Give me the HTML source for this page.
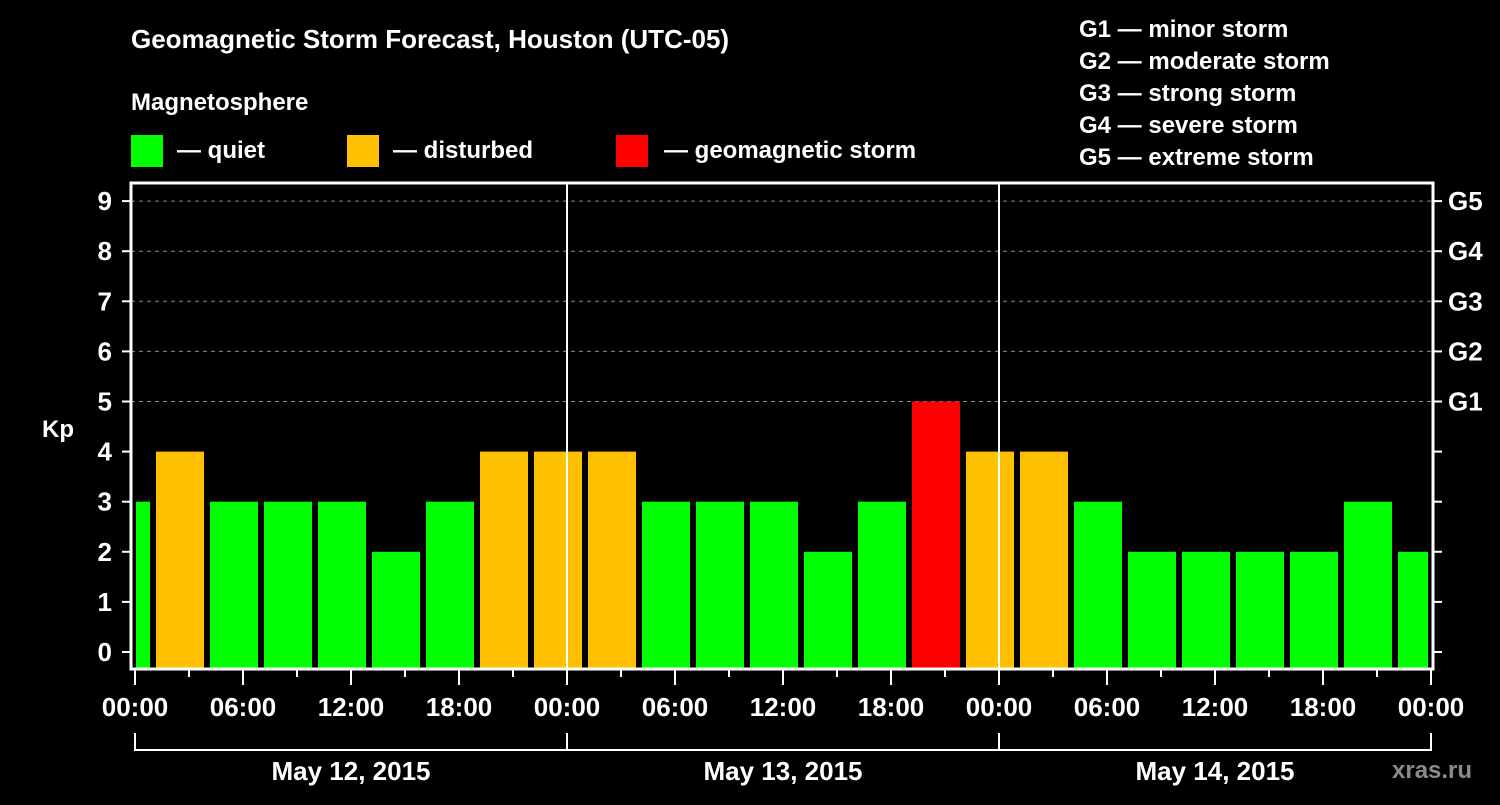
<!DOCTYPE html>
<html><head><meta charset="utf-8"><style>
body{margin:0;background:#000;width:1500px;height:800px;overflow:hidden}
svg text{font-family:"Liberation Sans",Arial,sans-serif;font-weight:bold;fill:#fff}
</style></head><body>
<svg id="c" width="1500" height="800" xmlns="http://www.w3.org/2000/svg">
<text x="131" y="48" font-size="26">Geomagnetic Storm Forecast, Houston (UTC-05)</text>
<text x="131" y="110" font-size="24">Magnetosphere</text>
<g><rect x="131" y="135" width="32" height="32" fill="#00ff00"/><text x="177" y="158" font-size="24">— quiet</text></g>
<g><rect x="347" y="135" width="32" height="32" fill="#ffc000"/><text x="393" y="158" font-size="24">— disturbed</text></g>
<g><rect x="616" y="135" width="32" height="32" fill="#ff0000"/><text x="664" y="158" font-size="24">— geomagnetic storm</text></g>
<g font-size="24">
<text x="1079" y="37">G1 — minor storm</text><text x="1079" y="69">G2 — moderate storm</text><text x="1079" y="101">G3 — strong storm</text><text x="1079" y="133">G4 — severe storm</text><text x="1079" y="165">G5 — extreme storm</text></g>
<text x="42" y="437" font-size="24">Kp</text>
<text x="1392" y="778" font-size="24" fill="#888" style="fill:#8a8a8a">xras.ru</text>
<g id="plot"></g>
</svg>
<script>
const kpValues=[3,4,3,3,3,2,3,4,4,4,3,3,3,2,3,5,4,4,3,2,2,2,2,3,2];
const barStartHours=[-2,1,4,7,10,13,16,19,22,25,28,31,34,37,40,43,46,49,52,55,58,61,64,67,70];
const yTicks=[0,1,2,3,4,5,6,7,8,9];
const gLabels=["G1","G2","G3","G4","G5"];
const xTickLabels=["00:00","06:00","12:00","18:00","00:00","06:00","12:00","18:00","00:00","06:00","12:00","18:00","00:00"];
const dayLabels=["May 12, 2015","May 13, 2015","May 14, 2015"];
const NS="http://www.w3.org/2000/svg";
const L=131,R=1433,T=183,B=669;
const x=h=>135+h*18;
const y=v=>652-v*50.1;
const g=document.getElementById('plot');
function el(t,a,p){const e=document.createElementNS(NS,t);for(const k in a)e.setAttribute(k,a[k]);(p||g).appendChild(e);return e;}
function col(v){return v>=5?"#ff0000":v>=4?"#ffc000":"#00ff00";}
// grid
for(let i=0;i<gLabels.length;i++){const v=5+i;
 const ln=el('line',{x1:L,x2:R,y1:y(v),y2:y(v),stroke:'#888','stroke-dasharray':'4,4','stroke-width':1});
 
 
 const t=el('text',{x:1448,y:y(v)+9,'font-size':26});t.textContent=gLabels[i];
 
 }
// bars
kpValues.forEach((v,i)=>{const s=barStartHours[i];
 let x0=Math.max(x(s)+3,x(0)+1),x1=Math.min(x(s+3)-3,x(72)-3);
 const r=el('rect',{x:x0,y:y(v),width:x1-x0,height:B-1-y(v),fill:col(v)});
 
 });
// day lines
[24,48].forEach(h=>{const ln=el('line',{x1:x(h),x2:x(h),y1:T,y2:B,stroke:'#fff','stroke-width':2});
 
 });
// frame
const fr=el('path',{d:`M${L} ${T}H${R}V${B}H${L}Z`,fill:'none',stroke:'#fff','stroke-width':3});


// y ticks
yTicks.forEach(v=>{el('line',{x1:122,x2:L,y1:y(v),y2:y(v),stroke:'#fff','stroke-width':2});
 el('line',{x1:R,x2:1442,y1:y(v),y2:y(v),stroke:'#fff','stroke-width':2});
 const t=el('text',{x:112,y:y(v)+9,'font-size':26,'text-anchor':'end'});t.textContent=v;
 
 });
// x ticks
for(let h=0;h<=72;h+=3){el('line',{x1:x(h),x2:x(h),y1:B,y2:h%6==0?685:677,stroke:'#fff','stroke-width':2});}
xTickLabels.forEach((s,i)=>{const t=el('text',{x:x(i*6),y:716,'font-size':26,'text-anchor':'middle'});t.textContent=s;
 
 });
// day bracket
el('path',{d:`M${x(0)} 733V750H${x(72)}V733M${x(24)} 733V750M${x(48)} 733V750`,fill:'none',stroke:'#fff','stroke-width':2});
dayLabels.forEach((s,i)=>{const t=el('text',{x:x(i*24+12),y:780,'font-size':26,'text-anchor':'middle'});t.textContent=s;
 
 });
</script>
</body></html>
